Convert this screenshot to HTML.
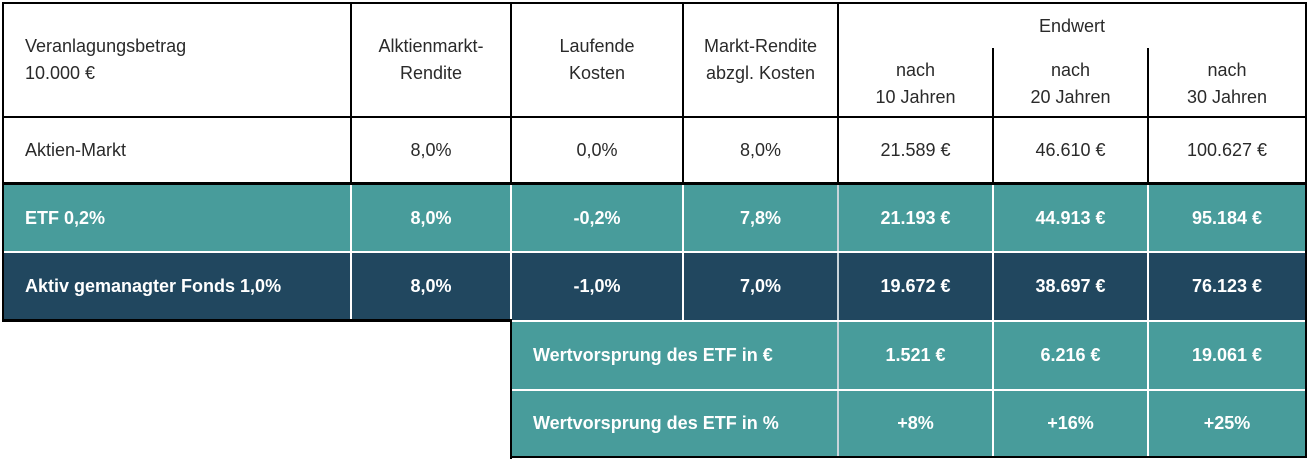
<!DOCTYPE html>
<html><head><meta charset="utf-8"><style>
body{margin:0;width:1308px;height:464px;background:#fff;position:relative;overflow:hidden;font-family:"Liberation Sans",sans-serif;}
.c{position:absolute;display:flex;align-items:center;justify-content:center;text-align:center;box-sizing:border-box;font-size:18px;line-height:27px;color:#2a2a2a;}
.l{justify-content:flex-start;padding-left:22px;text-align:left}
.t{background:#489c9b;color:#fff;font-weight:bold;}
.n{background:#21475f;color:#fff;font-weight:bold;}
.ln{position:absolute;background:#000}
.w{position:absolute;background:#fff}
</style></head><body>
<!-- header -->
<div class="c l" style="left:3px;top:3px;width:348px;height:114px">Veranlagungsbetrag<br>10.000 €</div>
<div class="c" style="left:351px;top:3px;width:160px;height:114px">Alktienmarkt-<br>Rendite</div>
<div class="c" style="left:511px;top:3px;width:172px;height:114px">Laufende<br>Kosten</div>
<div class="c" style="left:683px;top:3px;width:155px;height:114px">Markt-Rendite<br>abzgl. Kosten</div>
<div class="c" style="left:838px;top:10px;width:468px;height:32px">Endwert</div>
<div class="c" style="left:838px;top:50px;width:155px;height:67px">nach<br>10 Jahren</div>
<div class="c" style="left:993px;top:50px;width:155px;height:67px">nach<br>20 Jahren</div>
<div class="c" style="left:1148px;top:50px;width:158px;height:67px">nach<br>30 Jahren</div>
<!-- row market -->
<div class="c l" style="left:3px;top:117px;width:348px;height:66px">Aktien-Markt</div>
<div class="c" style="left:351px;top:117px;width:160px;height:66px">8,0%</div>
<div class="c" style="left:511px;top:117px;width:172px;height:66px">0,0%</div>
<div class="c" style="left:683px;top:117px;width:155px;height:66px">8,0%</div>
<div class="c" style="left:838px;top:117px;width:155px;height:66px">21.589 €</div>
<div class="c" style="left:993px;top:117px;width:155px;height:66px">46.610 €</div>
<div class="c" style="left:1148px;top:117px;width:158px;height:66px">100.627 €</div>
<!-- ETF row -->
<div class="c l t" style="left:3px;top:185px;width:348px;height:67px">ETF 0,2%</div>
<div class="c t" style="left:351px;top:185px;width:160px;height:67px">8,0%</div>
<div class="c t" style="left:511px;top:185px;width:172px;height:67px">-0,2%</div>
<div class="c t" style="left:683px;top:185px;width:155px;height:67px">7,8%</div>
<div class="c t" style="left:838px;top:185px;width:155px;height:67px">21.193 €</div>
<div class="c t" style="left:993px;top:185px;width:155px;height:67px">44.913 €</div>
<div class="c t" style="left:1148px;top:185px;width:158px;height:67px">95.184 €</div>
<!-- Active row -->
<div class="c l n" style="left:3px;top:252px;width:348px;height:68px">Aktiv gemanagter Fonds 1,0%</div>
<div class="c n" style="left:351px;top:252px;width:160px;height:68px">8,0%</div>
<div class="c n" style="left:511px;top:252px;width:172px;height:68px">-1,0%</div>
<div class="c n" style="left:683px;top:252px;width:155px;height:68px">7,0%</div>
<div class="c n" style="left:838px;top:252px;width:155px;height:68px">19.672 €</div>
<div class="c n" style="left:993px;top:252px;width:155px;height:68px">38.697 €</div>
<div class="c n" style="left:1148px;top:252px;width:158px;height:68px">76.123 €</div>
<!-- advantage rows -->
<div class="c t" style="left:511px;top:320px;width:327px;height:70px;justify-content:flex-start;padding-left:22px">Wertvorsprung des ETF in €</div>
<div class="c t" style="left:838px;top:320px;width:155px;height:70px">1.521 €</div>
<div class="c t" style="left:993px;top:320px;width:155px;height:70px">6.216 €</div>
<div class="c t" style="left:1148px;top:320px;width:158px;height:70px">19.061 €</div>
<div class="c t" style="left:511px;top:390px;width:327px;height:67px;justify-content:flex-start;padding-left:22px">Wertvorsprung des ETF in %</div>
<div class="c t" style="left:838px;top:390px;width:155px;height:67px">+8%</div>
<div class="c t" style="left:993px;top:390px;width:155px;height:67px">+16%</div>
<div class="c t" style="left:1148px;top:390px;width:158px;height:67px">+25%</div>
<!-- white separators in coloured area -->
<div class="w" style="left:350px;top:185px;width:2px;height:135px"></div>
<div class="w" style="left:510px;top:185px;width:2px;height:135px"></div>
<div class="w" style="left:682px;top:185px;width:2px;height:135px"></div>
<div class="w" style="left:837px;top:185px;width:2px;height:272px;background:#c8d4da"></div>
<div class="w" style="left:992px;top:185px;width:2px;height:272px"></div>
<div class="w" style="left:1147px;top:185px;width:2px;height:272px"></div>
<div class="w" style="left:3px;top:251px;width:1303px;height:2px"></div>
<div class="w" style="left:511px;top:320px;width:795px;height:2px"></div>
<div class="w" style="left:511px;top:389px;width:795px;height:2px"></div>
<!-- black lines -->
<div class="ln" style="left:2px;top:2px;width:1305px;height:2px"></div>
<div class="ln" style="left:2px;top:116px;width:1305px;height:2px"></div>
<div class="ln" style="left:2px;top:182px;width:1305px;height:3px"></div>
<div class="ln" style="left:2px;top:2px;width:2px;height:319px"></div>
<div class="ln" style="left:1305px;top:2px;width:2px;height:183px"></div>
<div class="ln" style="left:350px;top:2px;width:2px;height:181px"></div>
<div class="ln" style="left:510px;top:2px;width:2px;height:181px"></div>
<div class="ln" style="left:682px;top:2px;width:2px;height:181px"></div>
<div class="ln" style="left:837px;top:2px;width:2px;height:181px"></div>
<div class="ln" style="left:992px;top:48px;width:2px;height:135px"></div>
<div class="ln" style="left:1147px;top:48px;width:2px;height:135px"></div>
<div class="ln" style="left:2px;top:319px;width:510px;height:3px"></div>
<div class="ln" style="left:510px;top:319px;width:2px;height:140px"></div>
<div class="ln" style="left:510px;top:456px;width:797px;height:2px"></div>
<div class="ln" style="left:1305px;top:185px;width:2px;height:273px"></div>
</body></html>
